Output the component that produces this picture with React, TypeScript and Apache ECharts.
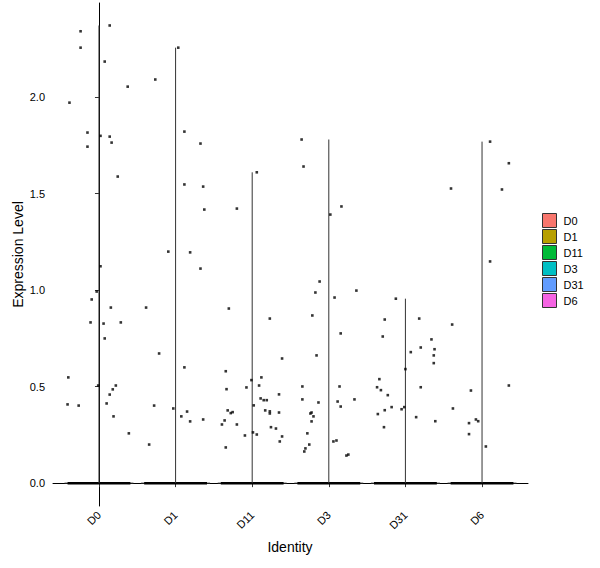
import { useEffect, useRef } from 'react';
import * as echarts from 'echarts';

const groups = ['D0', 'D1', 'D11', 'D3', 'D31', 'D6'];
const fills = ['#F8766D', '#B79F00', '#00BA38', '#00BFC4', '#619CFF', '#F564E3'];
// top of each violin (max expression in the group)
const groupMax = [2.372, 2.257, 1.611, 1.781, 0.956, 1.77];
const yTicks = [0, 0.5, 1, 1.5, 2];

// non-zero cells: [jitter offset, expression]
const d0Points: [number, number][] = [
  [0.14, 2.372], [-0.24, 2.342], [-0.24, 2.257], [0.075, 2.185], [0.375, 2.055], [-0.385, 1.972],
  [-0.15, 1.817], [0.02, 1.8], [0.14, 1.796], [0.165, 1.765], [-0.15, 1.744], [0.245, 1.589],
  [0.02, 1.124], [-0.03, 0.993], [-0.095, 0.952], [0.155, 0.91], [-0.11, 0.833], [0.06, 0.827],
  [0.285, 0.833], [0.075, 0.75], [-0.4, 0.548], [-0.01, 0.506], [0.22, 0.506], [0.18, 0.486],
  [0.14, 0.459], [-0.41, 0.408], [-0.265, 0.402], [0.1, 0.413], [0.19, 0.346], [0.39, 0.258],
];
const d1Points: [number, number][] = [
  [0.035, 2.257], [-0.265, 2.092], [0.115, 1.822], [0.325, 1.76], [0.115, 1.548], [0.36, 1.537],
  [0.375, 1.418], [-0.095, 1.2], [0.19, 1.196], [0.325, 1.112], [-0.385, 0.91], [-0.215, 0.672],
  [0.115, 0.6], [-0.28, 0.402], [-0.03, 0.387], [0.15, 0.371], [0.075, 0.346], [0.19, 0.32],
  [0.36, 0.33], [-0.345, 0.2],
];
const d11Points: [number, number][] = [
  [0.06, 1.611], [-0.2, 1.423], [-0.305, 0.905], [0.23, 0.853], [0.39, 0.646], [-0.345, 0.58],
  [-0.01, 0.534], [0.12, 0.548], [-0.335, 0.487], [-0.075, 0.496], [0.09, 0.506], [0.35, 0.46],
  [0.11, 0.439], [0.15, 0.43], [0.19, 0.43], [0.02, 0.403], [-0.32, 0.377], [-0.28, 0.363],
  [-0.255, 0.368], [0.17, 0.377], [0.23, 0.372], [0.23, 0.361], [0.35, 0.366], [-0.36, 0.325],
  [-0.395, 0.304], [-0.2, 0.304], [0.245, 0.29], [0.31, 0.283], [0.01, 0.263], [0.06, 0.252],
  [-0.095, 0.247], [0.39, 0.242], [0.36, 0.216], [-0.345, 0.185],
];
const d3Points: [number, number][] = [
  [-0.355, 1.781], [-0.33, 1.641], [0.02, 1.392], [0.165, 1.434], [-0.12, 1.045], [-0.175, 0.988],
  [0.36, 0.998], [0.075, 0.962], [-0.215, 0.869], [0.155, 0.776], [-0.16, 0.662], [-0.345, 0.501],
  [0.14, 0.501], [-0.345, 0.434], [0.335, 0.434], [-0.135, 0.418], [0.115, 0.423], [0.155, 0.397],
  [-0.24, 0.361], [-0.225, 0.366], [-0.2, 0.346], [-0.225, 0.32], [-0.28, 0.258], [-0.255, 0.2],
  [-0.305, 0.18], [-0.32, 0.164], [0.06, 0.216], [0.1, 0.221], [0.23, 0.143], [0.255, 0.148],
];
const d31Points: [number, number][] = [
  [-0.125, 0.956], [-0.27, 0.848], [-0.296, 0.76], [0.18, 0.853], [0.34, 0.745], [0.38, 0.694],
  [0.2, 0.703], [0.07, 0.679], [0.37, 0.662], [0.37, 0.622], [0.0, 0.591], [-0.34, 0.539],
  [-0.37, 0.497], [-0.32, 0.482], [0.2, 0.497], [-0.23, 0.456], [-0.18, 0.394], [-0.015, 0.394],
  [-0.05, 0.383], [-0.27, 0.378], [-0.36, 0.358], [0.14, 0.342], [0.39, 0.321], [-0.28, 0.29],
];
const d6Points: [number, number][] = [
  [0.105, 1.77], [0.35, 1.658], [-0.405, 1.527], [0.26, 1.522], [0.105, 1.149], [-0.39, 0.822],
  [0.35, 0.506], [-0.145, 0.48], [-0.38, 0.387], [-0.08, 0.33], [-0.05, 0.321], [-0.17, 0.311],
  [-0.17, 0.254], [0.05, 0.19],
];
const groupPoints = [d0Points, d1Points, d11Points, d3Points, d31Points, d6Points];

const FONT = '"Liberation Sans", Arial, sans-serif';
const JITTER = 0.41; // half width of the zero-valued cell band
const VIOLIN = 0.45; // half width of the violin base

export default function App() {
  const elRef = useRef<HTMLDivElement | null>(null);

  useEffect(() => {
    if (!elRef.current) return;
    const chart = echarts.init(elRef.current, null, { renderer: 'svg' });

    const violins = groups.map((name, i) => ({
      name,
      type: 'custom',
      itemStyle: { color: fills[i] },
      data: [[i, groupMax[i]]],
      encode: { x: 0, y: 1 },
      renderItem: (_p: any, api: any) => {
        const c = api.value(0);
        const top = api.value(1);
        const base = api.coord([c, 0]);
        const peak = api.coord([c, top]);
        const l = api.coord([c - VIOLIN, 0]);
        const r = api.coord([c + VIOLIN, 0]);
        const jl = api.coord([c - JITTER, 0]);
        const jr = api.coord([c + JITTER, 0]);
        return {
          type: 'group',
          children: [
            { type: 'line', shape: { x1: l[0], y1: l[1], x2: r[0], y2: r[1] }, style: { stroke: '#333', lineWidth: 1 } },
            { type: 'line', shape: { x1: jl[0], y1: jl[1], x2: jr[0], y2: jr[1] }, style: { stroke: '#000', lineWidth: 2.5 } },
            { type: 'line', shape: { x1: base[0], y1: base[1], x2: peak[0], y2: peak[1] }, style: { stroke: '#333', lineWidth: 1 } },
          ],
        };
      },
    }));

    const cells = groupPoints.flatMap((pts, i) => pts.map(([off, v]) => [i + off, v]));

    chart.setOption({
      animation: false,
      grid: { left: 53, right: 72, top: 3, bottom: 62 },
      xAxis: {
        type: 'value',
        min: -0.6,
        max: 5.6,
        splitLine: { show: false },
        axisLine: { show: true, lineStyle: { color: '#000', width: 1 } },
        axisTick: { show: true, length: 4, customValues: groups.map((_, i) => i), lineStyle: { color: '#333' } },
        axisLabel: {
          customValues: groups.map((_, i) => i),
          formatter: (v: number) => groups[Math.round(v)] ?? '',
          rotate: 45,
          margin: 7,
          fontSize: 11,
          color: '#000',
          fontFamily: FONT,
        },
      },
      yAxis: {
        type: 'value',
        min: -0.1185,
        max: 2.4885,
        splitLine: { show: false },
        axisLine: { show: true, lineStyle: { color: '#000', width: 1 } },
        axisTick: { show: true, length: 4, customValues: yTicks, lineStyle: { color: '#333' } },
        axisLabel: {
          customValues: yTicks,
          formatter: (v: number) => v.toFixed(1),
          margin: 8,
          fontSize: 11,
          color: '#000',
          fontFamily: FONT,
        },
      },
      legend: {
        data: groups,
        orient: 'vertical',
        left: 542,
        top: 213,
        icon: 'rect',
        itemWidth: 14,
        itemHeight: 14,
        itemGap: 1,
        padding: 0,
        itemStyle: { borderColor: '#333', borderWidth: 1 },
        textStyle: { fontSize: 11, color: '#000', fontFamily: FONT, lineHeight: 14, padding: [0, 0, 0, 2] },
        selectedMode: false,
      },
      graphic: [
        {
          type: 'text',
          x: 290,
          y: 547,
          style: { text: 'Identity', fontSize: 14, fontFamily: FONT, fill: '#000', align: 'center', verticalAlign: 'middle' },
        },
        {
          type: 'text',
          x: 18,
          y: 254.5,
          rotation: Math.PI / 2,
          style: { text: 'Expression Level', fontSize: 14, fontFamily: FONT, fill: '#000', align: 'center', verticalAlign: 'middle' },
        },
      ],
      series: [
        ...violins,
        {
          name: 'cells',
          type: 'scatter',
          symbol: 'rect',
          symbolSize: 2.6,
          itemStyle: { color: '#000' },
          data: cells,
          z: 3,
        },
      ],
    });

    return () => {
      chart.dispose();
    };
  }, []);

  return <div ref={elRef} style={{ position: 'fixed', left: 0, top: 0, width: 600, height: 568, background: '#fff' }} />;
}
